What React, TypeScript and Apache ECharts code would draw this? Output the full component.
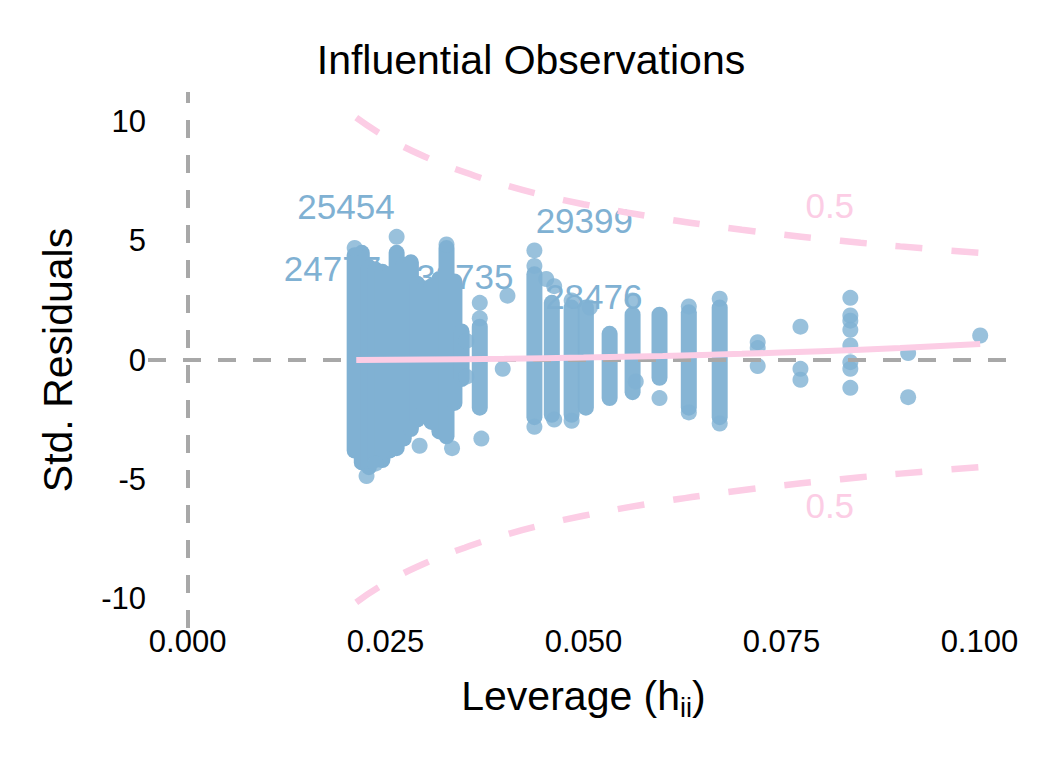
import React, { useEffect, useRef } from 'react';
import * as echarts from 'echarts';

const FONT = '"Liberation Sans", Arial, sans-serif';
const BLUE = '#80b1d3';
const PINK = '#fccde5';
const GREY = '#a8a8a8';

// dense leverage columns: many overlapping points stacked from low to high
const denseLev = [0.0211, 0.022, 0.0229, 0.0237, 0.0246, 0.0255, 0.0264, 0.0273, 0.0282, 0.029, 0.0299, 0.0308, 0.0318, 0.0327, 0.0337, 0.0346];
const denseLow = [-3.8, -4.3, -4.5, -4.2, -4.2, -3.8, -3.7, -3.3, -2.9, -2.5, -2.0, -2.6, -3.0, -3.2, -1.8, -0.8];
const denseHigh = [4.4, 4.5, 3.9, 3.8, 3.7, 3.6, 4.5, 4.0, 4.1, 3.2, 3.0, 3.1, 3.4, 4.7, 3.3, 1.2];

// sparser leverage columns
const colLev = [0.0369, 0.0438, 0.046, 0.0485, 0.0503, 0.0533, 0.0562, 0.0596, 0.0633, 0.0672];
const colLow = [-2.0, -2.4, -2.3, -2.3, -2.0, -1.6, -1.35, -0.75, -2.0, -2.4];
const colHigh = [1.4, 3.6, 2.4, 2.2, 2.2, 1.1, 1.9, 1.9, 2.0, 2.2];

// single visible observations
const pointLev = [
  0.0211, 0.0264, 0.0327, 0.0226, 0.0237, 0.0293, 0.0334, 0.0369, 0.0369, 0.0371,
  0.0404, 0.0398, 0.0352, 0.0352, 0.0438, 0.0438, 0.0438, 0.0453, 0.0463, 0.0463,
  0.0485, 0.0485, 0.0508, 0.0562, 0.0566, 0.0596, 0.0633, 0.0633, 0.0672, 0.0672,
  0.072, 0.072, 0.072, 0.0774, 0.0774, 0.0774, 0.0837, 0.0837, 0.0837, 0.0837,
  0.0837, 0.0837, 0.0837, 0.0837, 0.091, 0.091, 0.1001,
];
const pointRes = [
  4.7, 5.17, 4.85, -4.87, -4.35, -3.6, -3.7, 2.4, 1.75, -3.3,
  2.7, -0.37, 0.8, -0.7, 4.6, 3.95, -2.8, 3.4, 3.1, -2.5,
  2.5, -2.55, 2.2, 2.5, -0.9, -1.6, 2.25, -2.2, 2.57, -2.67,
  0.75, 0.5, -0.25, 1.4, -0.37, -0.83, 2.61, 1.87, 1.65, 1.27,
  0.61, -0.09, -0.37, -1.17, 0.29, -1.56, 1.03,
];

// smoothed trend
const smoothLev = [0.0213, 0.03, 0.04, 0.05, 0.06, 0.07, 0.08, 0.09, 0.1001];
const smoothRes = [0.0, 0.02, 0.05, 0.1, 0.17, 0.26, 0.37, 0.5, 0.67];

// Cook's distance 0.5 contour
const cookLev = [0.0213, 0.025, 0.03, 0.035, 0.04, 0.045, 0.05, 0.055, 0.06, 0.065, 0.07, 0.075, 0.08, 0.085, 0.09, 0.095, 0.1];
const cookUpper = [10.17, 9.37, 8.53, 7.88, 7.35, 6.91, 6.54, 6.22, 5.94, 5.69, 5.47, 5.27, 5.09, 4.92, 4.77, 4.63, 4.5];
const cookLower = [-10.17, -9.37, -8.53, -7.88, -7.35, -6.91, -6.54, -6.22, -5.94, -5.69, -5.47, -5.27, -5.09, -4.92, -4.77, -4.63, -4.5];
const cookLabelLev = [0.0811, 0.0811];
const cookLabelRes = [6.49, -6.11];

// labelled observations
const obsNames = ['25454', '24777', '32735', '29399', '28476'];
const obsLev = [0.02, 0.0183, 0.035, 0.0501, 0.0513];
const obsRes = [6.43, 3.82, 3.49, 5.84, 2.65];

const xTicks = [0, 0.025, 0.05, 0.075, 0.1];
const yTicks = [-10, -5, 0, 5, 10];

const App: React.FC = () => {
  const chartRef = useRef<HTMLDivElement | null>(null);

  useEffect(() => {
    if (!chartRef.current) return;
    const chart = echarts.init(chartRef.current, null, { renderer: 'svg' });

    const capsule = (opacity: number) => (params: any, api: any) => {
      const top = api.coord([api.value(0), api.value(2)]);
      const bot = api.coord([api.value(0), api.value(1)]);
      const r = 8;
      return {
        type: 'rect',
        shape: { x: top[0] - r, y: top[1] - r, width: 2 * r, height: bot[1] - top[1] + 2 * r, r },
        style: { fill: BLUE, opacity },
      };
    };

    const option = {
      animation: false,
      title: {
        text: 'Influential Observations',
        left: 'center',
        top: 34,
        textStyle: { fontFamily: FONT, fontSize: 41, fontWeight: 'normal', color: '#000' },
      },
      grid: { left: 148, width: 871, top: 92, height: 536 },
      xAxis: {
        type: 'value',
        min: -0.005,
        max: 0.105,
        name: 'Leverage (h{sub|ii})',
        nameLocation: 'middle',
        nameGap: 42,
        nameTextStyle: {
          fontFamily: FONT,
          fontSize: 41,
          color: '#000',
          rich: {
            sub: { fontFamily: FONT, fontSize: 27, color: '#000', verticalAlign: 'top', padding: [24, 0, 0, 0] },
          },
        },
        axisLine: { show: false },
        axisTick: { show: false },
        splitLine: { show: false },
        axisLabel: {
          customValues: xTicks,
          margin: -2,
          fontFamily: FONT,
          fontSize: 31,
          color: '#000',
          formatter: (v: number) => v.toFixed(3),
        },
      },
      yAxis: {
        type: 'value',
        min: -11.25,
        max: 11.25,
        name: 'Std. Residuals',
        nameLocation: 'middle',
        nameGap: 70,
        nameTextStyle: { fontFamily: FONT, fontSize: 41, color: '#000' },
        axisLine: { show: false },
        axisTick: { show: false },
        splitLine: { show: false },
        axisLabel: {
          customValues: yTicks,
          margin: 2,
          fontFamily: FONT,
          fontSize: 31,
          color: '#000',
        },
      },
      series: [
        {
          name: 'labels',
          type: 'scatter',
          z: 1,
          symbolSize: 0,
          itemStyle: { opacity: 1 },
          data: obsNames.map((n, i) => [obsLev[i], obsRes[i], n]),
          label: {
            show: true,
            position: 'inside',
            formatter: (p: any) => p.data[2],
            fontFamily: FONT,
            fontSize: 35,
            color: BLUE,
          },
          markLine: {
            silent: true,
            symbol: 'none',
            label: { show: false },
            lineStyle: { color: GREY, width: 4, type: [18, 17] },
            data: [{ yAxis: 0 }, { xAxis: 0 }],
          },
        },
        {
          name: 'dense',
          type: 'custom',
          z: 3,
          renderItem: capsule(1),
          encode: { x: 0, y: [1, 2] },
          data: denseLev.map((l, i) => [l, denseLow[i], denseHigh[i]]),
        },
        {
          name: 'columns',
          type: 'custom',
          z: 3,
          renderItem: capsule(0.95),
          encode: { x: 0, y: [1, 2] },
          data: colLev.map((l, i) => [l, colLow[i], colHigh[i]]),
        },
        {
          name: 'points',
          type: 'scatter',
          z: 4,
          symbolSize: 16,
          itemStyle: { color: BLUE, opacity: 0.8 },
          data: pointLev.map((l, i) => [l, pointRes[i]]),
        },
        {
          name: 'cook upper',
          type: 'line',
          z: 5,
          smooth: true,
          symbol: 'none',
          lineStyle: { color: PINK, width: 6.5, type: [27, 29] },
          data: cookLev.map((l, i) => [l, cookUpper[i]]),
        },
        {
          name: 'cook lower',
          type: 'line',
          z: 5,
          smooth: true,
          symbol: 'none',
          lineStyle: { color: PINK, width: 6.5, type: [27, 29] },
          data: cookLev.map((l, i) => [l, cookLower[i]]),
        },
        {
          name: 'cook labels',
          type: 'scatter',
          z: 5,
          symbolSize: 0,
          itemStyle: { opacity: 1 },
          data: cookLabelLev.map((l, i) => [l, cookLabelRes[i]]),
          label: {
            show: true,
            position: 'inside',
            formatter: '0.5',
            fontFamily: FONT,
            fontSize: 35,
            color: PINK,
          },
        },
        {
          name: 'smooth',
          type: 'line',
          z: 6,
          smooth: true,
          symbol: 'none',
          lineStyle: { color: PINK, width: 6 },
          data: smoothLev.map((l, i) => [l, smoothRes[i]]),
        },
      ],
    };

    chart.setOption(option as any);
    return () => chart.dispose();
  }, []);

  return <div ref={chartRef} style={{ position: 'absolute', left: 0, top: 0, width: 1062, height: 767 }} />;
};

export default App;
